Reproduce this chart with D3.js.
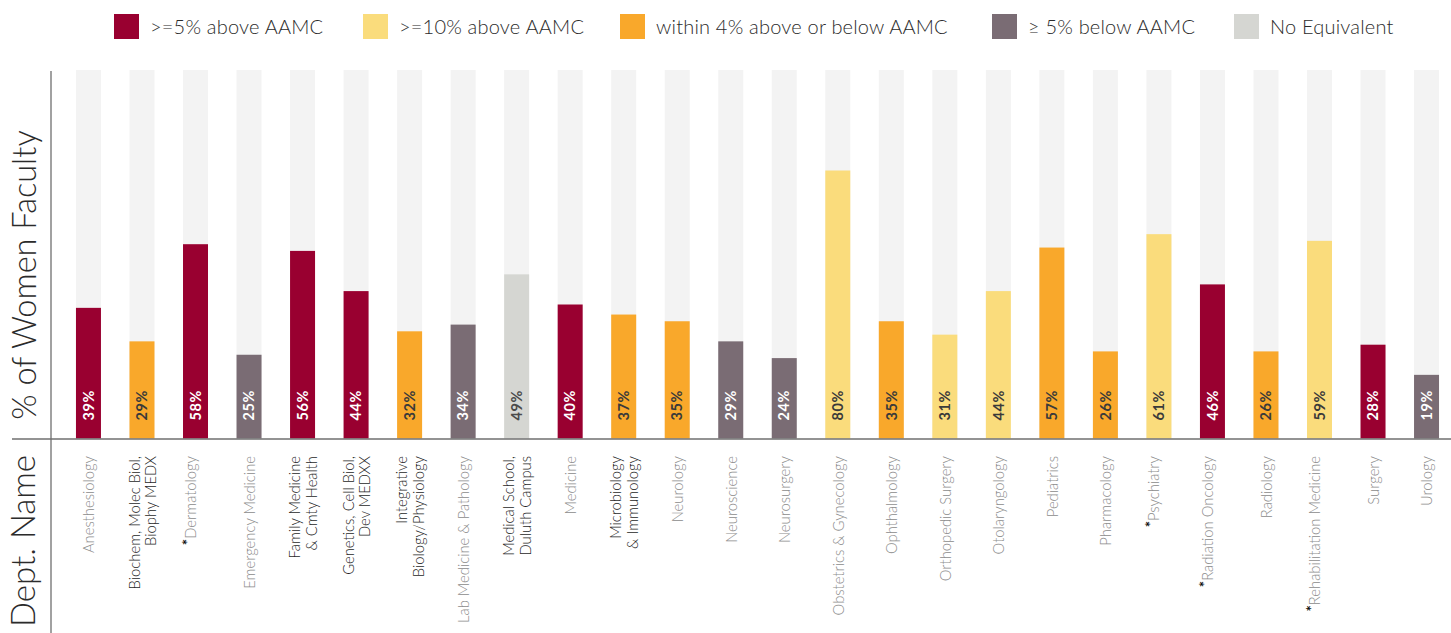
<!DOCTYPE html>
<html>
<head>
<meta charset="utf-8">
<script src="https://cdn.jsdelivr.net/npm/d3@7"></script>
<style>
  html, body { margin: 0; padding: 0; background: #fff; }
  svg { display: block; font-family: Lato, "Open Sans", sans-serif; }
</style>
</head>
<body>
<svg id="chart" width="1451" height="633"></svg>
<script>
// Departments (each label line separated by "|"), flagged ones carry an asterisk
const departments = [
  "Anesthesiology",
  "Biochem, Molec Biol,|Biophy MEDX",
  "Dermatology",
  "Emergency Medicine",
  "Family Medicine|& Cmty Health",
  "Genetics, Cell Biol,|Dev MEDXX",
  "Integrative|Biology/Physiology",
  "Lab Medicine & Pathology",
  "Medical School,|Duluth Campus",
  "Medicine",
  "Microbiology|& Immunology",
  "Neurology",
  "Neuroscience",
  "Neurosurgery",
  "Obstetrics & Gynecology",
  "Ophthalmology",
  "Orthopedic Surgery",
  "Otolaryngology",
  "Pediatrics",
  "Pharmacology",
  "Psychiatry",
  "Radiation Oncology",
  "Radiology",
  "Rehabilitation Medicine",
  "Surgery",
  "Urology"
];
const starred = ["Dermatology", "Psychiatry", "Radiation Oncology", "Rehabilitation Medicine"];

// Share of women faculty (%)
const womenPct = [39, 29, 58, 25, 56, 44, 32, 34, 49, 40, 37, 35, 29, 24, 80, 35, 31, 44, 57, 26, 61, 46, 26, 59, 28, 19];

// Comparison with AAMC benchmark, per department
const comparison = [
  "above5", "within4", "above5", "below5", "above5", "above5", "within4", "below5",
  "none", "above5", "within4", "within4", "below5", "below5", "above10", "within4",
  "above10", "above10", "within4", "within4", "above10", "above5", "within4", "above10",
  "above5", "below5"
];

// Legend categories and labels
const legendKeys = ["above5", "above10", "within4", "below5", "none"];
const legendLabels = [">=5% above AAMC", ">=10% above AAMC", "within 4% above or below AAMC", "\u2265 5% below AAMC", "No Equivalent"];

const colors = {
  above5: "#990030",
  above10: "#FADC7C",
  within4: "#F9A82B",
  below5: "#7A6C74",
  none: "#D5D6D2"
};
const labelInk = { above5: "#ffffff", above10: "#3a3a3a", within4: "#3a3a3a", below5: "#ffffff", none: "#4a4a4a" };

const svg = d3.select("#chart");
const W = 1451;

const baseY = 438.5, topY = 70;
const x = d3.scaleBand().domain(departments).range([61.7, 1453.3]).paddingInner(0.533).paddingOuter(0.2665);
const y = d3.scaleLinear().domain([0, 110]).range([baseY, topY]);

const data = departments.map((d, i) => ({ dept: d, pct: womenPct[i], cat: comparison[i] }));

// Background tracks
svg.append("g").selectAll("rect").data(data).join("rect")
  .attr("x", d => x(d.dept))
  .attr("width", x.bandwidth())
  .attr("y", y(110))
  .attr("height", y(0) - y(110))
  .attr("fill", "#F3F3F3");

// Value bars
svg.append("g").selectAll("rect").data(data).join("rect")
  .attr("x", d => x(d.dept))
  .attr("width", x.bandwidth())
  .attr("y", d => y(d.pct))
  .attr("height", d => y(0) - y(d.pct))
  .attr("fill", d => colors[d.cat]);

// Value labels inside bars, reading upward from the base
svg.append("g").selectAll("text").data(data).join("text")
  .attr("transform", d => `translate(${x(d.dept) + x.bandwidth() / 2},${y(0) - 18}) rotate(-90)`)
  .attr("dy", "0.36em")
  .attr("font-size", 14.5)
  .attr("font-weight", 700)
  .attr("letter-spacing", "0.6px")
  .attr("fill", d => labelInk[d.cat])
  .text(d => d.pct + "%");

// Axes lines
svg.append("line").attr("x1", 12).attr("x2", W).attr("y1", baseY + 0.5).attr("y2", baseY + 0.5)
  .attr("stroke", "#6f6f6f").attr("stroke-width", 1.6);
svg.append("line").attr("x1", 51).attr("x2", 51).attr("y1", 71).attr("y2", 633)
  .attr("stroke", "#6f6f6f").attr("stroke-width", 1.3);

// Department labels, rotated, hanging from below the axis
const lbl = svg.append("g").selectAll("text").data(data).join("text")
  .attr("transform", d => `translate(${x(d.dept) + x.bandwidth() / 2},456) rotate(-90)`)
  .attr("text-anchor", "end")
  .attr("font-size", 14.8)
  .attr("font-weight", 300)
  .attr("fill", d => d.dept.includes("|") ? "#1f1f1f" : "#8c8c8c");

lbl.each(function (d) {
  const t = d3.select(this);
  const lines = d.dept.split("|");
  const lh = 16.5;
  lines.forEach((line, i) => {
    const off = (i - (lines.length - 1) / 2) * lh + 0.5;
    const ts = t.append("tspan").attr("x", 0).attr("y", off).attr("dy", "0.36em");
    if (starred.includes(line)) {
      ts.append("tspan").attr("fill", "#111").attr("font-weight", 700).attr("font-size", 15)
        .attr("dy", "-0.2em").text("*");
      ts.append("tspan").attr("dy", "0.2em").text(line);
    } else {
      ts.text(line);
    }
  });
});

// Axis titles
svg.append("text")
  .attr("transform", "translate(36,275) rotate(-90)")
  .attr("text-anchor", "middle")
  .attr("font-size", 32.5)
  .attr("font-weight", 300)
  .attr("fill", "#2b2b2b")
  .text("% of Women Faculty");

svg.append("text")
  .attr("transform", "translate(35,541) rotate(-90)")
  .attr("text-anchor", "middle")
  .attr("font-size", 33)
  .attr("font-weight", 300)
  .attr("fill", "#2b2b2b")
  .text("Dept. Name");

// Legend: swatch positions along the top strip
const legendX = [114, 363, 620, 992, 1234];
const legend = svg.append("g");
legendKeys.forEach((k, i) => {
  const g = legend.append("g").attr("transform", `translate(${legendX[i]},14)`);
  g.append("rect").attr("width", 25).attr("height", 25).attr("fill", colors[k]);
  g.append("text").attr("x", 36).attr("y", 12.5).attr("dy", "0.35em")
    .attr("font-size", 20).attr("font-weight", 300).attr("letter-spacing", "0.2px")
    .attr("fill", "#2b2b2b").text(legendLabels[i]);
});
</script>
</body>
</html>
